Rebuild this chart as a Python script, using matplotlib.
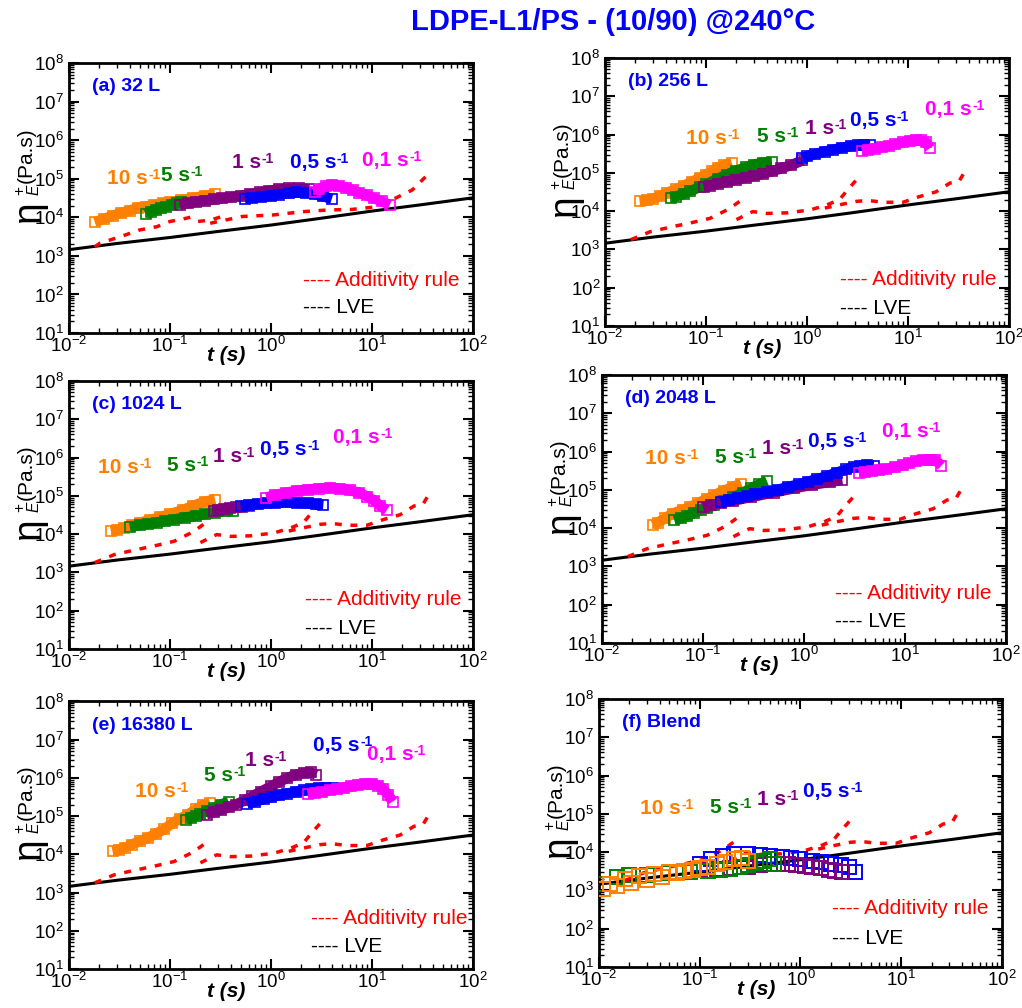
import matplotlib
matplotlib.use('Agg')
import matplotlib.pyplot as plt
from matplotlib.ticker import LogLocator, NullFormatter

plt.rcParams['font.family'] = ['Liberation Sans', 'DejaVu Sans']
plt.rcParams['mathtext.fontset'] = 'custom'
plt.rcParams['mathtext.rm'] = 'Liberation Sans'
plt.rcParams['mathtext.it'] = 'Liberation Sans:italic'
plt.rcParams['mathtext.bf'] = 'Liberation Sans:bold'

ORANGE, GREEN, PURPLE, BLUE, MAGENTA = '#FF8000', '#008000', '#800080', '#0000FF', '#FF00FF'
rate_names = ['10', '5', '1', '0,5', '0,1']

# linear viscoelastic envelope (same in every panel)
lve_t = [0.01, 0.03, 0.1, 0.3, 1, 3, 10, 30, 100]
lve_v = [1.45e3, 2.1e3, 3.0e3, 4.3e3, 6.3e3, 9.3e3, 1.45e4, 2.1e4, 3.2e4]

# additivity rule, panel (a)
adda_t1 = [0.018, 0.02, 0.034, 0.05, 0.074, 0.1, 0.146, 0.17]
adda_v1 = [1.7e3, 2.1e3, 3.3e3, 4.7e3, 5.7e3, 7.8e3, 9.5e3, 1.05e4]
adda_t2 = [0.19, 0.25, 0.33, 0.36]
adda_v2 = [7.8e3, 8.5e3, 1.05e4, 1.4e4]
adda_t3 = [0.25, 0.52, 1.05, 2.05, 3.7, 6.3, 11.7, 18.6, 25, 35.5]
adda_v3 = [7e3, 1.05e4, 1.15e4, 1.4e4, 1.55e4, 1.6e4, 1.9e4, 3.5e4, 5.1e4, 1.26e5]

# additivity rule, panels (b)-(f)
add_t1 = [0.018, 0.028, 0.044, 0.072, 0.11, 0.17, 0.25]
add_v1 = [1.8e3, 2.9e3, 3.8e3, 5e3, 6.5e3, 1.15e4, 2.4e4]
add_t2 = [0.2, 0.23, 0.29, 0.4, 0.63, 1.07, 1.57, 2.1, 2.5, 3.3]
add_v2 = [6e3, 7.2e3, 9.7e3, 8.7e3, 9e3, 1.07e4, 1.45e4, 2e4, 3.5e4, 8e4]
add_t3 = [1.5, 2.2, 3.1, 4, 5.7, 8.9, 13, 19, 26, 32, 38]
add_v3 = [1.2e4, 1.5e4, 1.8e4, 1.9e4, 1.7e4, 1.7e4, 2.4e4, 3.2e4, 5.4e4, 6e4, 1.3e5]

# (a) 32 L
a_t10 = [0.018, 0.022, 0.027, 0.033, 0.04, 0.048, 0.058, 0.07, 0.085, 0.1, 0.13, 0.17, 0.22, 0.28]
a_v10 = [7.5e3, 9e3, 1.1e4, 1.3e4, 1.5e4, 1.75e4, 1.9e4, 2.1e4, 2.3e4, 2.5e4, 2.8e4, 3.2e4, 3.6e4, 4e4]
a_t5 = [0.058, 0.065, 0.073, 0.082, 0.092, 0.104, 0.117, 0.13]
a_v5 = [1.2e4, 1.4e4, 1.55e4, 1.7e4, 1.9e4, 2.1e4, 2.3e4, 2.5e4]
a_t1 = [0.125, 0.15, 0.18, 0.22, 0.27, 0.33, 0.4, 0.5, 0.62, 0.77, 0.95, 1.2, 1.5, 1.9, 2.4]
a_v1 = [2.1e4, 2.3e4, 2.5e4, 2.7e4, 2.9e4, 3.1e4, 3.3e4, 3.6e4, 4e4, 4.4e4, 4.9e4, 5.3e4, 5.6e4, 5.6e4, 5.3e4]
a_t05 = [0.55, 0.65, 0.8, 1.0, 1.2, 1.5, 1.8, 2.2, 2.7, 3.3, 4.0]
a_v05 = [3e4, 3.2e4, 3.4e4, 3.6e4, 3.9e4, 4.2e4, 4.4e4, 4.3e4, 4e4, 3.5e4, 3e4]
a_t01 = [2.7, 3.0, 3.5, 4.0, 4.7, 5.5, 6.5, 7.5, 9, 10.5, 12.5, 15]
a_v01 = [4.5e4, 5.5e4, 6.5e4, 7e4, 6.5e4, 5.8e4, 5e4, 4.3e4, 3.7e4, 3.1e4, 2.6e4, 2.1e4]

# (b) 256 L
b_t10 = [0.022, 0.026, 0.03, 0.035, 0.041, 0.05, 0.06, 0.072, 0.087, 0.1, 0.115, 0.13, 0.15, 0.18]
b_v10 = [1.8e4, 1.9e4, 2.1e4, 2.5e4, 3e4, 3.7e4, 4.6e4, 5.8e4, 7.4e4, 9e4, 1.1e5, 1.35e5, 1.6e5, 1.8e5]
b_t5 = [0.045, 0.05, 0.06, 0.07, 0.087, 0.1, 0.13, 0.16, 0.2, 0.25, 0.3, 0.37, 0.45]
b_v5 = [2.2e4, 2.4e4, 2.8e4, 3.3e4, 4.3e4, 5e4, 7e4, 9e4, 1.15e5, 1.4e5, 1.65e5, 1.85e5, 1.9e5]
b_t1 = [0.095, 0.11, 0.13, 0.16, 0.2, 0.25, 0.3, 0.37, 0.45, 0.55, 0.7, 0.9]
b_v1 = [4.2e4, 4.6e4, 5.1e4, 5.8e4, 6.6e4, 7.5e4, 8.3e4, 9.5e4, 1.1e5, 1.3e5, 1.6e5, 2.1e5]
b_t05 = [0.9, 1.0, 1.2, 1.5, 1.8, 2.2, 2.7, 3.2, 3.7, 4.2]
b_v05 = [2.4e5, 2.7e5, 3.1e5, 3.6e5, 4.0e5, 4.5e5, 5.0e5, 5.3e5, 5.4e5, 5.3e5]
b_t01 = [3.5, 4, 4.7, 5.5, 6.5, 7.5, 9, 10.5, 12, 13.5, 15, 16.5]
b_v01 = [3.7e5, 4e5, 4.3e5, 4.7e5, 5.1e5, 5.6e5, 6.2e5, 6.8e5, 7.1e5, 7e5, 6.3e5, 4.4e5]

# (c) 1024 L
c_t10 = [0.026, 0.03, 0.035, 0.042, 0.05, 0.063, 0.08, 0.1, 0.135, 0.17, 0.22, 0.28]
c_v10 = [1.2e4, 1.3e4, 1.45e4, 1.7e4, 2e4, 2.3e4, 2.8e4, 3.3e4, 4.3e4, 5.5e4, 7e4, 8e4]
c_t5 = [0.04, 0.05, 0.06, 0.075, 0.09, 0.11, 0.14, 0.18, 0.22, 0.28, 0.35, 0.42]
c_v5 = [1.55e4, 1.7e4, 1.85e4, 2e4, 2.2e4, 2.4e4, 2.7e4, 3e4, 3.3e4, 3.6e4, 3.9e4, 4e4]
c_t1 = [0.27, 0.3, 0.34, 0.39, 0.45, 0.52, 0.6]
c_v1 = [4e4, 4.3e4, 4.6e4, 4.8e4, 5e4, 5.2e4, 5.3e4]
c_t05 = [0.5, 0.6, 0.75, 0.9, 1.1, 1.4, 1.8, 2.3, 2.8, 3.3]
c_v05 = [5.5e4, 5.8e4, 6.1e4, 6.4e4, 6.6e4, 6.7e4, 6.6e4, 6.3e4, 6e4, 5.8e4]
c_t01 = [0.9, 1.1, 1.4, 1.8, 2.3, 3, 3.8, 4.8, 6, 7.5, 9, 10.5, 12, 14]
c_v01 = [9e4, 1.05e5, 1.2e5, 1.35e5, 1.45e5, 1.55e5, 1.6e5, 1.55e5, 1.4e5, 1.2e5, 9.5e4, 7.5e4, 5.5e4, 4.2e4]

# (d) 2048 L
d_t10 = [0.032, 0.036, 0.042, 0.05, 0.063, 0.075, 0.09, 0.11, 0.13, 0.16, 0.2, 0.24]
d_v10 = [1.2e4, 1.4e4, 1.8e4, 2.4e4, 3e4, 3.6e4, 4.6e4, 5.8e4, 7.3e4, 9.5e4, 1.2e5, 1.45e5]
d_t5 = [0.052, 0.06, 0.07, 0.082, 0.095, 0.11, 0.13, 0.16, 0.2, 0.25, 0.3, 0.36, 0.43]
d_v5 = [1.6e4, 1.8e4, 2.1e4, 2.5e4, 2.9e4, 3.3e4, 4e4, 5e4, 6.5e4, 8.5e4, 1.1e5, 1.4e5, 1.7e5]
d_t1 = [0.1, 0.12, 0.15, 0.2, 0.3, 0.5, 0.8, 1.2, 1.8, 2.4]
d_v1 = [3.5e4, 4e4, 4.5e4, 5.2e4, 6.5e4, 8.5e4, 1.1e5, 1.35e5, 1.6e5, 1.8e5]
d_t05 = [0.15, 0.18, 0.22, 0.27, 0.33, 0.43, 0.55, 0.7, 0.9, 1.1, 1.35, 1.7, 2.1, 2.6, 3.1, 3.6, 4.2, 4.9]
d_v05 = [4.8e4, 5.3e4, 6e4, 6.8e4, 7.6e4, 8.8e4, 1e5, 1.2e5, 1.4e5, 1.65e5, 1.9e5, 2.3e5, 2.8e5, 3.4e5, 3.9e5, 4.3e5, 4.5e5, 4.3e5]
d_t01 = [3.5, 4, 4.7, 5.5, 6.5, 8, 9.5, 11, 13, 15, 17.5, 20, 23]
d_v01 = [2.7e5, 2.9e5, 3.1e5, 3.3e5, 3.5e5, 3.9e5, 4.4e5, 5e5, 5.6e5, 6e5, 6.2e5, 6e5, 4.3e5]

# (e) 16380 L
e_t10 = [0.027, 0.031, 0.036, 0.042, 0.05, 0.06, 0.072, 0.087, 0.105, 0.125, 0.15, 0.18, 0.21, 0.25]
e_v10 = [1.2e4, 1.3e4, 1.5e4, 1.8e4, 2.2e4, 2.7e4, 3.4e4, 4.5e4, 6.5e4, 8.5e4, 1.1e5, 1.5e5, 1.9e5, 2.2e5]
e_t5 = [0.145, 0.16, 0.18, 0.2, 0.23, 0.27, 0.32, 0.38]
e_v5 = [8e4, 9e4, 1e5, 1.15e5, 1.35e5, 1.6e5, 2e5, 2.4e5]
e_t1 = [0.23, 0.27, 0.32, 0.38, 0.45, 0.55, 0.65, 0.8, 1.0, 1.2, 1.45, 1.75, 2.1, 2.5, 2.8]
e_v1 = [1.1e5, 1.25e5, 1.45e5, 1.7e5, 2e5, 2.6e5, 3.3e5, 4.4e5, 6e5, 7.8e5, 1e6, 1.2e6, 1.35e6, 1.4e6, 1.2e6]
e_t05 = [0.58, 0.7, 0.85, 1.0, 1.2, 1.45, 1.75, 2.1, 2.5, 3, 3.5, 4.1]
e_v05 = [2.1e5, 2.4e5, 2.8e5, 3.1e5, 3.5e5, 3.9e5, 4.3e5, 4.7e5, 5.1e5, 5.4e5, 5.5e5, 5.3e5]
e_t01 = [2.3, 2.7, 3.2, 3.8, 4.5, 5.3, 6.2, 7.2, 8.5, 10, 11.5, 13, 14.5, 16]
e_v01 = [3.8e5, 4e5, 4.3e5, 4.7e5, 5.1e5, 5.6e5, 6.1e5, 6.6e5, 7e5, 7e5, 6.3e5, 5e5, 3.6e5, 2.4e5]

# (f) Blend
f_t10 = [0.011, 0.013, 0.015, 0.018, 0.021, 0.025, 0.03, 0.035, 0.042, 0.05, 0.06, 0.07, 0.085, 0.1, 0.12, 0.15, 0.18, 0.22, 0.26, 0.3]
f_v10 = [1.1e3, 1.5e3, 1.3e3, 2e3, 1.6e3, 2.4e3, 1.9e3, 2.7e3, 2.3e3, 3e3, 2.8e3, 3.2e3, 3.5e3, 3.8e3, 4.2e3, 4.8e3, 5.5e3, 6.5e3, 7e3, 6e3]
f_t5 = [0.011, 0.015, 0.02, 0.03, 0.05, 0.08, 0.12, 0.16, 0.2, 0.25, 0.3, 0.36, 0.43, 0.5, 0.55]
f_v5 = [1.5e3, 2.2e3, 2.5e3, 2.6e3, 2.8e3, 3e3, 3.3e3, 3.5e3, 3.6e3, 4e3, 4.6e3, 5.2e3, 6e3, 6.5e3, 5e3]
f_t1 = [0.1, 0.15, 0.2, 0.3, 0.4, 0.5, 0.6, 0.75, 0.9, 1.1, 1.3, 1.6, 1.9, 2.2, 2.6]
f_v1 = [3.5e3, 3.6e3, 3.8e3, 4.2e3, 4.6e3, 5e3, 5e3, 4.8e3, 4.6e3, 4.3e3, 4e3, 3.8e3, 3.5e3, 3.2e3, 3e3]
f_t05 = [0.1, 0.13, 0.17, 0.22, 0.3, 0.4, 0.5, 0.65, 0.8, 1.0, 1.3, 1.6, 2, 2.5, 3, 3.5]
f_v05 = [5e3, 6.5e3, 8e3, 9e3, 9e3, 8.5e3, 8e3, 7.5e3, 7e3, 6.5e3, 6e3, 5.5e3, 5e3, 4.5e3, 4e3, 3e3]

colors = [ORANGE, GREEN, PURPLE, BLUE, MAGENTA]
adds_a = [(adda_t1, adda_v1), (adda_t2, adda_v2), (adda_t3, adda_v3)]
adds = [(add_t1, add_v1), (add_t2, add_v2), (add_t3, add_v3)]

panels = [
    dict(rect=[0.0675, 0.6696, 0.3953, 0.2679], name='(a) 32 L', adds=adds_a, band=True,
         series=[(a_t10, a_v10), (a_t5, a_v5), (a_t1, a_v1), (a_t05, a_v05), (a_t01, a_v01)],
         lab=[(0.094, 0.574), (0.228, 0.585), (0.403, 0.63), (0.547, 0.63), (0.725, 0.64)],
         leg=(0.58, 0.196, 0.093)),
    dict(rect=[0.592, 0.6766, 0.3953, 0.2659], name='(b) 256 L', adds=adds, band=True,
         series=[(b_t10, b_v10), (b_t5, b_v5), (b_t1, b_v1), (b_t05, b_v05), (b_t01, b_v01)],
         lab=[(0.20, 0.70), (0.375, 0.706), (0.495, 0.737), (0.606, 0.766), (0.792, 0.806)],
         leg=(0.582, 0.172, 0.067)),
    dict(rect=[0.0675, 0.3562, 0.3953, 0.2659], name='(c) 1024 L', adds=adds, band=True,
         series=[(c_t10, c_v10), (c_t5, c_v5), (c_t1, c_v1), (c_t05, c_v05), (c_t01, c_v01)],
         lab=[(0.073, 0.678), (0.242, 0.683), (0.357, 0.717), (0.473, 0.745), (0.654, 0.79)],
         leg=(0.584, 0.185, 0.077)),
    dict(rect=[0.589, 0.3621, 0.3953, 0.2659], name='(d) 2048 L', adds=adds, band=True,
         series=[(d_t10, d_v10), (d_t5, d_v5), (d_t1, d_v1), (d_t05, d_v05), (d_t01, d_v01)],
         lab=[(0.106, 0.689), (0.28, 0.693), (0.395, 0.727), (0.51, 0.751), (0.692, 0.79)],
         leg=(0.577, 0.185, 0.08)),
    dict(rect=[0.0675, 0.0387, 0.3953, 0.2654], name='(e) 16380 L', adds=adds, band=True,
         series=[(e_t10, e_v10), (e_t5, e_v5), (e_t1, e_v1), (e_t05, e_v05), (e_t01, e_v01)],
         lab=[(0.163, 0.663), (0.333, 0.722), (0.436, 0.781), (0.605, 0.837), (0.737, 0.8)],
         leg=(0.60, 0.19, 0.083)),
    dict(rect=[0.5861, 0.0407, 0.3943, 0.2659], name='(f) Blend', adds=adds, band=False,
         series=[(f_t10, f_v10), (f_t5, f_v5), (f_t1, f_v1), (f_t05, f_v05)],
         lab=[(0.102, 0.592), (0.275, 0.596), (0.391, 0.623), (0.507, 0.654)],
         leg=(0.577, 0.219, 0.107)),
]

fig = plt.figure(figsize=(10.22, 10.08), dpi=100)
fig.text(0.6, 0.978, 'LDPE-L1/PS - (10/90) @240°C', ha='center', va='center',
         fontsize=21, fontweight='bold', color=BLUE)

rate_texts = []
for p in panels:
    ax = fig.add_axes(p['rect'])
    ax.set_xscale('log')
    ax.set_yscale('log')
    ax.plot(lve_t, lve_v, color='black', lw=2.2, zorder=2)
    for at, av in p['adds']:
        ax.plot(at, av, color='red', lw=2.5, ls=(0, (2, 2.5)), zorder=2)
    order = list(range(len(p['series'])))
    if not p['band']:
        order = [3, 2, 1, 0]
    for k, i in enumerate(order):
        t, v = p['series'][i]
        c = colors[i]
        if p['band']:
            ax.plot(t, v, color=c, lw=7.5, solid_capstyle='butt', zorder=3 + k)
            ax.plot(t, v, ls='none', marker='s', ms=7, mfc='none', mec=c, mew=1.2, zorder=3 + k)
        else:
            ax.plot(t, v, ls='none', marker='s', ms=9.5, mfc='none', mec=c, mew=1.4, zorder=3 + k)
    for i, (x, y) in enumerate(p['lab']):
        txt = ax.text(x, y, rate_names[i] + ' s', transform=ax.transAxes,
                      color=colors[i], fontsize=15, fontweight='bold', ha='left', va='center',
                      zorder=10)
        rate_texts.append((txt, colors[i]))
    ax.text(0.057, 0.912, p['name'], transform=ax.transAxes, color=BLUE, fontsize=14,
            fontweight='bold', ha='left', va='center')
    lx, ly1, ly2 = p['leg']
    ax.text(lx, ly1, '---- Additivity rule', transform=ax.transAxes, color='red', fontsize=15,
            ha='left', va='center')
    ax.text(lx, ly2, '---- LVE', transform=ax.transAxes, color='black', fontsize=15,
            ha='left', va='center')
    ax.set_xlim(1e-2, 1e2)
    ax.set_ylim(1e1, 1e8)
    ax.xaxis.set_major_locator(LogLocator(base=10, numticks=10))
    ax.yaxis.set_major_locator(LogLocator(base=10, numticks=12))
    ax.xaxis.set_minor_locator(LogLocator(base=10, subs=range(2, 10), numticks=12))
    ax.yaxis.set_minor_locator(LogLocator(base=10, subs=range(2, 10), numticks=12))
    ax.xaxis.set_minor_formatter(NullFormatter())
    ax.yaxis.set_minor_formatter(NullFormatter())
    ax.tick_params(which='both', direction='in', top=True, right=True, labelsize=13.5)
    ax.tick_params(which='major', length=7, width=1.5)
    ax.tick_params(which='minor', length=3.5, width=1)
    ax.tick_params(axis='x', pad=2)
    for s in ax.spines.values():
        s.set_linewidth(2)
    ax.text(0.39, -0.085, 't (s)', transform=ax.transAxes, fontsize=15, fontweight='bold',
            fontstyle='italic', ha='center', va='center')
    ax.text(-0.10, 0.45, 'η', transform=ax.transAxes, fontsize=28, rotation=90,
            ha='center', va='center')
    ax.text(-0.10, 0.53, r'$_{E}^{+}$', transform=ax.transAxes, fontsize=16, rotation=90,
            ha='center', va='center')
    ax.text(-0.105, 0.66, '(Pa.s)', transform=ax.transAxes, fontsize=15, rotation=90,
            ha='center', va='center')

# small "-1" exponents placed right after each rate label
fig.canvas.draw()
renderer = fig.canvas.get_renderer()
W, H = fig.bbox.width, fig.bbox.height
for txt, c in rate_texts:
    bb = txt.get_window_extent(renderer)
    fig.text((bb.x1 + 0.5) / W, (bb.y1 + 1) / H, '-1', color=c, fontsize=10,
             fontweight='bold', ha='left', va='top', zorder=10)

fig.savefig('out.png', dpi=100)
